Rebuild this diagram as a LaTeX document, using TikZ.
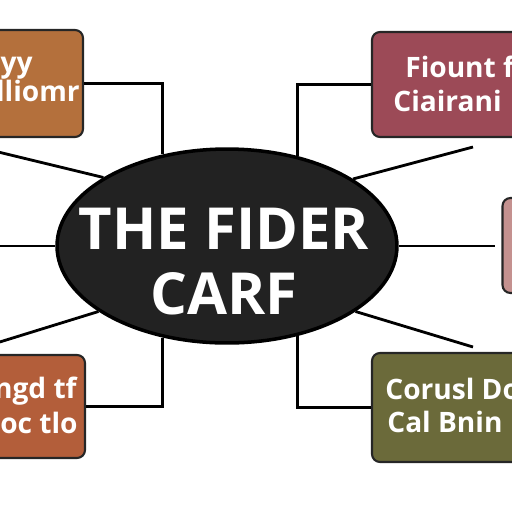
\documentclass[tikz,border=0pt]{standalone}
\usepackage{fontspec}
\setmainfont{Open Sans}
\usetikzlibrary{shapes.geometric}

\definecolor{tlfill}{HTML}{B4703C}
\definecolor{trfill}{HTML}{9C4A57}
\definecolor{rmfill}{HTML}{C4918F}
\definecolor{blfill}{HTML}{B35E3A}
\definecolor{brfill}{HTML}{6B6A3A}
\definecolor{hubfill}{HTML}{222222}

\begin{document}
\begin{tikzpicture}[x=0.02cm, y=-0.02cm,
  infobox/.style={draw=black!85, line width=1.2pt, rounded corners=4.5pt, inner sep=0pt},
  boxtext/.style={text=white, font=\bfseries\fontsize{16}{18}\selectfont, inner sep=0pt},
  spoke/.style={line width=1.6pt, draw=black}]
\useasboundingbox (0,0) rectangle (512,512);
\clip (0,0) rectangle (512,512);

% Boxes round the hub
\node[infobox, fill=tlfill, minimum width=2.46cm, minimum height=2.14cm] (tl) at (21.5,83.5) {};
\node[infobox, fill=trfill, minimum width=3.76cm, minimum height=2.1cm] (tr) at (466,84.5) {};
\node[infobox, fill=rmfill, minimum width=1.54cm, minimum height=1.9cm] (rm) at (541,245.5) {};
\node[infobox, fill=blfill, minimum width=2.5cm, minimum height=2.06cm] (bl) at (22.5,406.5) {};
\node[infobox, fill=brfill, minimum width=3.76cm, minimum height=2.18cm] (br) at (466,407.5) {};

% Central ellipse
\node[ellipse, draw=black, line width=2pt, fill=hubfill, minimum width=6.8cm, minimum height=3.88cm, inner sep=0pt] (hub) at (227,246) {};
\node[text=white, font=\bfseries\fontsize{33}{37}\selectfont, align=center, inner sep=0pt] (title) at (224,262) {THE FIDER\\CARF};

% Box texts
\node[boxtext, anchor=base east] (tl1) at (33,72) {Iyy};
\node[boxtext, anchor=base east] (tl2) at (80,101) {Wlliomr};
\node[boxtext, anchor=base west] (tr1) at (405,77) {Fiount f};
\node[boxtext, anchor=base west] (tr2) at (393,111) {Ciairani};
\node[boxtext, anchor=base east] (bl1) at (77,398) {ngd tf};
\node[boxtext, anchor=base east] (bl2) at (78,433) {ioc tlo};
\node[boxtext, anchor=base west] (br1) at (385,399) {Corusl Don};
\node[boxtext, anchor=base west] (br2) at (387,432) {Cal Bnin};

% Elbow connectors
\draw[spoke] (tl.east) -| (hub.125);
\draw[spoke] (tr.west) -| (hub.52);
\draw[spoke] (bl.east) -| (hub.235);
\draw[spoke] (br.west) -| (hub.308);

% Free spokes
\coordinate (sl1) at (-10,150);
\coordinate (sl2) at (-5,246);
\coordinate (sl3) at (-10,345);
\coordinate (sr1) at (473,147);
\coordinate (sr2) at (495,246);
\coordinate (sr3) at (473,347);
\draw[spoke] (hub.151.5) -- (sl1);
\draw[spoke] (hub.west) -- (sl2);
\draw[spoke] (hub.207.5) -- (sl3);
\draw[spoke] (hub.28) -- (sr1);
\draw[spoke] (hub.east) -- (sr2);
\draw[spoke] (hub.333) -- (sr3);
\end{tikzpicture}
\end{document}
